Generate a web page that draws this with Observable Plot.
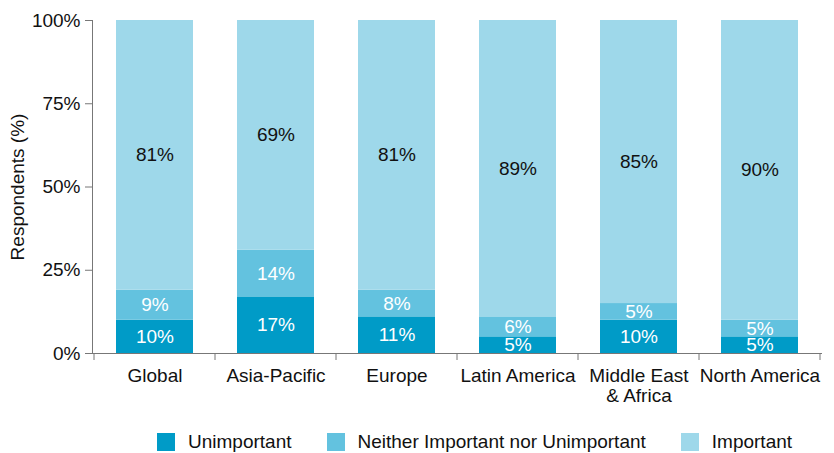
<!DOCTYPE html>
<html>
<head>
<meta charset="utf-8">
<script src="https://cdn.jsdelivr.net/npm/d3@7"></script>
<script src="https://cdn.jsdelivr.net/npm/@observablehq/plot@0.6"></script>
<style>
  body { margin: 0; background: #fff; font-family: "Liberation Sans", Arial, sans-serif; }
  #legend { display: flex; align-items: center; padding-left: 157px; margin-top: 17px; height: 20px; font-size: 19px; color: #111; }
  #legend .item { display: flex; align-items: center; margin-right: 35px; }
  #legend .sw { width: 18px; height: 18px; margin-right: 13px; }
</style>
</head>
<body>
<div id="chart"></div>
<div id="legend"></div>
<script>
const regions = ["Global", "Asia-Pacific", "Europe", "Latin America", "Middle East & Africa", "North America"];
const categories = ["Unimportant", "Neither Important nor Unimportant", "Important"];
const colors = ["#009bc7", "#63c2df", "#9ed8ea"];
const unimportant = [10, 17, 11, 5, 10, 5];
const neither = [9, 14, 8, 6, 5, 5];
const important = [81, 69, 81, 89, 85, 90];
const yTicks = [0, 25, 50, 75, 100];

const series = [unimportant, neither, important];
const data = [];
regions.forEach((r, i) => {
  categories.forEach((c, j) => data.push({region: r, category: c, value: series[j][i]}));
});

const FS = 19;
const chart = Plot.plot({
  width: 834,
  height: 415,
  marginTop: 20,
  marginLeft: 92,
  marginRight: 12,
  marginBottom: 62,
  style: {fontFamily: "Liberation Sans, Arial, sans-serif", fontSize: FS + "px", color: "#111", background: "#fff"},
  x: {domain: regions, paddingInner: 0.36, paddingOuter: 0.18},
  y: {domain: [0, 100]},
  color: {domain: categories, range: colors},
  marks: [
    Plot.barY(data, {x: "region", y: "value", fill: "category", z: "category", order: categories}),
    Plot.text(data, Plot.stackY({x: "region", y: "value", z: "category", order: categories,
      text: d => d.category === "Important" ? d.value + "%" : null, fill: "#111", fontSize: FS})),
    Plot.text(data, Plot.stackY({x: "region", y: "value", z: "category", order: categories,
      text: d => d.category !== "Important" ? d.value + "%" : null, fill: "white", fontSize: FS})),
    Plot.axisY({ticks: yTicks, tickFormat: d => d + "%", tickSize: 7, tickPadding: 5, stroke: "#777",
      fontSize: FS, fill: "#111",
      label: "Respondents (%)", labelAnchor: "center", labelArrow: "none", labelOffset: 82}),
    Plot.axisX({tickSize: 0, tickPadding: 14, label: null, fill: "#111", fontSize: FS, lineHeight: 1.07,
      tickFormat: d => d === "Middle East & Africa" ? "Middle East\n& Africa" : d}),
    Plot.frame({anchor: "left", stroke: "#777"}),
    Plot.ruleY([0], {stroke: "#777"})
  ]
});
document.getElementById("chart").appendChild(chart);

// boundary ticks between categories on x axis, from Plot's own scales
const xs = chart.scale("x");
const y0 = chart.scale("y").apply(0);
const off = (xs.step - xs.bandwidth) / 2;
const bounds = regions.map(r => xs.apply(r) - off);
bounds.push(xs.apply(regions[regions.length - 1]) + xs.bandwidth + off);
d3.select(chart).append("g").attr("stroke", "#777")
  .selectAll("line").data(bounds).join("line")
  .attr("x1", d => d).attr("x2", d => d).attr("y1", y0).attr("y2", y0 + 7);

const legend = d3.select("#legend");
categories.forEach((c, i) => {
  const it = legend.append("div").attr("class", "item");
  it.append("div").attr("class", "sw").style("background", colors[i]);
  it.append("span").text(c);
});
</script>
</body>
</html>
